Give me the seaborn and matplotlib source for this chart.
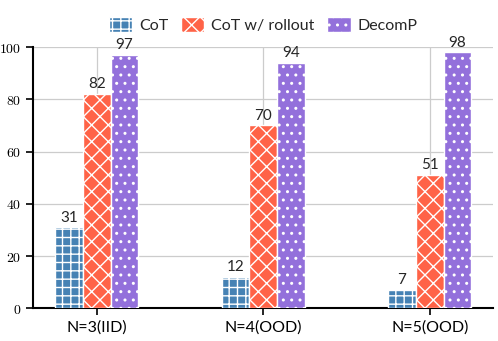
import pandas as pd
import matplotlib
matplotlib.use("Agg")
import matplotlib.pyplot as plt
from matplotlib.ticker import FuncFormatter
import seaborn as sns

# data
settings = ["N=3(IID)", "N=4(OOD)", "N=5(OOD)"]
methods = ["CoT", "CoT w/ rollout", "DecomP"]
cot = [31, 12, 7]
cot_rollout = [82, 70, 51]
decomp = [97, 94, 98]

colors = ["steelblue", "tomato", "mediumpurple"]
hatches = ["++", "xx", ".."]

df = pd.DataFrame({
    "setting": settings * 3,
    "method": [m for m in methods for _ in settings],
    "acc": cot + cot_rollout + decomp,
})

sns.set_style("whitegrid")
plt.rcParams["font.family"] = ["Lato", "DejaVu Sans"]
plt.rcParams["mathtext.fontset"] = "cm"
plt.rcParams["hatch.linewidth"] = 1.0

fig = plt.figure(figsize=(4.98, 3.41), dpi=100)
ax = fig.add_axes([0.067, 0.096, 0.923, 0.766])

sns.barplot(data=df, x="setting", y="acc", hue="method", hue_order=methods,
            palette=colors, width=0.5, gap=0, edgecolor="white", linewidth=1,
            saturation=1, ax=ax, zorder=3)

for cont, h in zip(ax.containers, hatches):
    for bar in cont:
        bar.set_hatch(h)
    ax.bar_label(cont, labels=[f"{int(v)}" for v in cont.datavalues],
                 padding=2, fontsize=11)

ax.set_xlim(-0.38, 2.38)
ax.set_ylim(0, 100)
ax.set_xlabel("")
ax.set_ylabel("")
ax.yaxis.set_major_formatter(FuncFormatter(lambda v, p: f"${v:g}$"))
ax.tick_params(axis="y", labelsize=10, length=5, width=1.2, left=True, colors="black")
ax.tick_params(axis="x", labelsize=11.5, length=5, width=1.2, bottom=True, colors="black")

ax.grid(True, color="#cccccc", linewidth=0.9, zorder=0)
ax.set_axisbelow(True)
for s in ["top", "right"]:
    ax.spines[s].set_visible(False)
for s in ["left", "bottom"]:
    ax.spines[s].set_color("black")
    ax.spines[s].set_linewidth(1.5)

leg = ax.legend(loc="lower center", bbox_to_anchor=(0.5, 1.03), ncol=3, frameon=False,
                fontsize=11.5, handlelength=1.45, handleheight=1.05, columnspacing=0.8,
                handletextpad=0.45, borderaxespad=0)
for hnd, h in zip(leg.legend_handles, hatches):
    hnd.set_hatch(h)
    hnd.set_edgecolor("white")
    hnd.set_linewidth(1)

fig.savefig("out.png", dpi=100)
